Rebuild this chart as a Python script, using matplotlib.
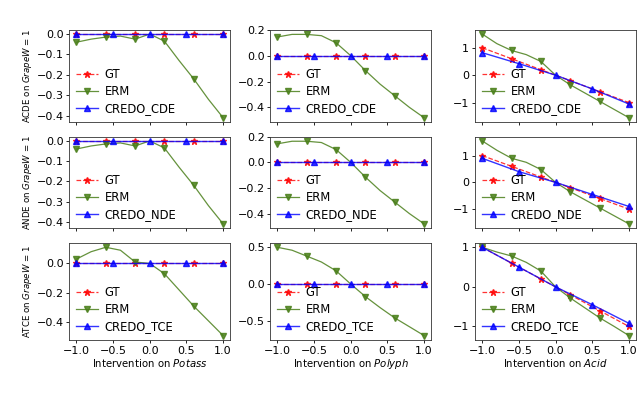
import matplotlib
matplotlib.use("Agg")
import matplotlib.pyplot as plt
import numpy as np

plt.rcParams['font.family'] = ['DejaVu Sans']
plt.rcParams['font.size'] = 8

# x grids
x_gt = [-1.0, -0.6, -0.2, 0.2, 0.6, 1.0]
x_erm = [-1.0, -0.8, -0.6, -0.4, -0.2, 0.0, 0.2, 0.4, 0.6, 0.8, 1.0]
x_credo = [-1.0, -0.5, 0.0, 0.5, 1.0]

row_effects = ["ACDE", "ANDE", "ATCE"]
credo_names = ["CREDO_CDE", "CREDO_NDE", "CREDO_TCE"]
treatments = ["Potass", "Polyph", "Acid"]

# GT values
gt_zero = [0.0, 0.0, 0.0, 0.0, 0.0, 0.0]
gt_acid = [1.0, 0.6, 0.2, -0.2, -0.6, -1.0]

# CREDO values
credo_zero = [0.0, 0.0, 0.0, 0.0, 0.0]
credo_acid_cde = [0.82, 0.42, 0.0, -0.5, -1.05]
credo_acid_nde = [0.90, 0.40, 0.0, -0.45, -0.90]
credo_acid_tce = [1.0, 0.50, 0.0, -0.45, -0.92]

# ERM values
erm_potass_cde = [-0.04, -0.025, -0.015, -0.01, -0.025, 0.0, -0.035, -0.13, -0.22, -0.32, -0.41]
erm_polyph_cde = [0.145, 0.165, 0.165, 0.155, 0.10, 0.0, -0.115, -0.22, -0.31, -0.40, -0.48]
erm_acid_cde = [1.50, 1.15, 0.90, 0.75, 0.50, 0.0, -0.35, -0.65, -0.95, -1.25, -1.55]
erm_potass_nde = [-0.04, -0.025, -0.015, -0.01, -0.025, 0.0, -0.035, -0.13, -0.22, -0.32, -0.41]
erm_polyph_nde = [0.145, 0.165, 0.165, 0.155, 0.10, 0.0, -0.115, -0.22, -0.31, -0.40, -0.48]
erm_acid_nde = [1.55, 1.20, 0.90, 0.75, 0.48, 0.0, -0.35, -0.65, -0.95, -1.25, -1.55]
erm_potass_tce = [0.03, 0.08, 0.11, 0.09, 0.01, 0.0, -0.07, -0.18, -0.29, -0.39, -0.49]
erm_polyph_tce = [0.50, 0.46, 0.38, 0.30, 0.18, 0.0, -0.17, -0.32, -0.46, -0.58, -0.70]
erm_acid_tce = [1.00, 0.88, 0.78, 0.62, 0.40, 0.0, -0.28, -0.53, -0.78, -1.00, -1.23]

# y tick labels per panel
yticks = [[[0.0, -0.1, -0.2, -0.3, -0.4], [0.2, 0.0, -0.2, -0.4], [1, 0, -1]],
          [[0.0, -0.1, -0.2, -0.3, -0.4], [0.2, 0.0, -0.2, -0.4], [1, 0, -1]],
          [[0.0, -0.2, -0.4], [0.5, 0.0, -0.5], [1, 0, -1]]]

gt_data = [[gt_zero, gt_zero, gt_acid]] * 3
credo_data = [[credo_zero, credo_zero, credo_acid_cde],
              [credo_zero, credo_zero, credo_acid_nde],
              [credo_zero, credo_zero, credo_acid_tce]]
erm_data = [[erm_potass_cde, erm_polyph_cde, erm_acid_cde],
            [erm_potass_nde, erm_polyph_nde, erm_acid_nde],
            [erm_potass_tce, erm_polyph_tce, erm_acid_tce]]

fig = plt.figure(figsize=(6.4, 3.93), dpi=100)
lefts = [0.108, 0.422, 0.742]
width = 0.252
rows = [(0.690, 0.234), (0.420, 0.232), (0.135, 0.247)]

for r in range(3):
    for c in range(3):
        b, h = rows[r]
        ax = fig.add_axes([lefts[c], b, width, h])
        ax.plot(x_gt, gt_data[r][c], color='red', linestyle='--', marker='*',
                markersize=4.5, linewidth=0.9, alpha=0.8, label='GT')
        ax.plot(x_erm, erm_data[r][c], color='#4a7f1a', linestyle='-', marker='v',
                markersize=4.5, linewidth=0.9, alpha=0.85, markevery=2, label='ERM')
        ax.plot(x_credo, credo_data[r][c], color='blue', linestyle='-', marker='^',
                markersize=4.5, linewidth=1.0, alpha=0.8, label=credo_names[r])
        ax.legend(loc='lower left', frameon=False, fontsize=8.3, handlelength=1.9,
                  borderaxespad=0.2, labelspacing=0.35, handletextpad=0.6)
        ax.set_xticks([-1.0, -0.5, 0.0, 0.5, 1.0])
        ax.set_yticks(yticks[r][c])
        ax.tick_params(labelsize=8, length=2.5, width=0.6, pad=1.5)
        for s in ax.spines.values():
            s.set_linewidth(0.6)
            s.set_color('#333333')
        if r < 2:
            ax.set_xticklabels([])
        else:
            ax.set_xlabel('Intervention on $\\it{' + treatments[c] + '}$', fontsize=7.3, labelpad=1)
        if c == 0:
            ax.set_ylabel(row_effects[r] + ' on $\\it{GrapeW}$ = 1', fontsize=6.2, labelpad=2)

fig.savefig('out.png', dpi=100)
